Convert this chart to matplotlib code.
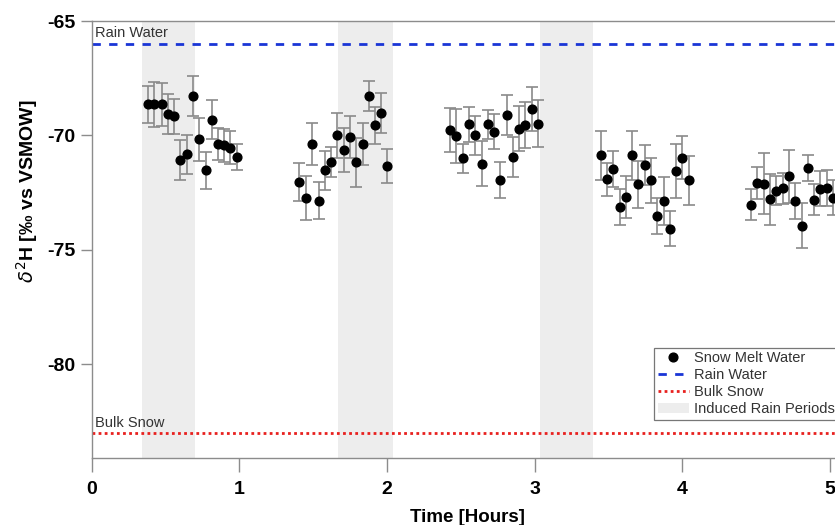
import matplotlib
matplotlib.use("Agg")
import matplotlib.pyplot as plt
from matplotlib.patches import Patch
from matplotlib.lines import Line2D

plt.rcParams["font.family"] = ["Liberation Sans", "DejaVu Sans"]
plt.rcParams["mathtext.fontset"] = "dejavusans"
plt.rcParams["axes.unicode_minus"] = False

# ── data ────────────────────────────────────────────────────────
time_h = [
    0.379, 0.424, 0.474, 0.515, 0.557, 0.600, 0.643, 0.684, 0.729, 0.772,
    0.812, 0.855, 0.896, 0.938, 0.982,
    1.406, 1.451, 1.494, 1.537, 1.580, 1.620, 1.663, 1.706, 1.749, 1.789,
    1.835, 1.875, 1.918, 1.959, 2.001,
    2.426, 2.469, 2.512, 2.555, 2.597, 2.641, 2.683, 2.724, 2.766, 2.810,
    2.852, 2.895, 2.936, 2.981, 3.022,
    3.446, 3.489, 3.532, 3.575, 3.617, 3.660, 3.701, 3.744, 3.787, 3.830,
    3.873, 3.915, 3.956, 3.999, 4.042,
    4.464, 4.507, 4.552, 4.592, 4.635, 4.678, 4.719, 4.764, 4.807, 4.850,
    4.890, 4.933, 4.976, 5.017,
]
d2h = [
    -68.64, -68.64, -68.64, -69.07, -69.17, -71.07, -70.82, -68.28, -70.17, -71.52,
    -69.32, -70.38, -70.43, -70.53, -70.94,
    -72.03, -72.74, -70.38, -72.84, -71.52, -71.16, -69.99, -70.63, -70.05, -71.16,
    -70.38, -68.28, -69.55, -69.00, -71.33,
    -69.76, -70.02, -71.00, -69.51, -69.99, -71.23, -69.51, -69.83, -71.94, -69.10,
    -70.95, -69.70, -69.54, -68.83, -69.48,
    -70.86, -71.91, -71.48, -73.12, -72.67, -70.86, -72.14, -71.29, -71.96, -73.53,
    -72.86, -74.07, -71.56, -70.97, -71.96,
    -73.02, -72.07, -72.10, -72.79, -72.42, -72.31, -71.78, -72.86, -73.95, -71.42,
    -72.80, -72.32, -72.29, -72.71,
]
d2h_err = [
    0.82, 0.98, 0.93, 0.87, 0.75, 0.88, 0.86, 0.89, 0.93, 0.82,
    0.85, 0.71, 0.71, 0.73, 0.55,
    0.85, 0.96, 0.91, 0.82, 0.85, 0.65, 0.98, 0.95, 0.92, 1.07,
    0.93, 0.66, 0.81, 0.87, 0.73,
    0.95, 1.16, 0.63, 0.77, 0.85, 0.97, 0.63, 0.78, 0.78, 0.87,
    0.87, 0.97, 1.02, 0.96, 1.04,
    1.07, 0.73, 0.79, 0.80, 0.92, 1.07, 1.04, 0.88, 0.98, 0.78,
    1.05, 0.76, 1.17, 0.95, 1.07,
    0.69, 0.71, 1.35, 1.10, 0.63, 0.68, 1.15, 0.80, 0.98, 0.57,
    0.68, 0.75, 0.79, 0.75,
]
rain_water = -66.0
bulk_snow = -83.0
rain_periods = [(0.34, 0.70), (1.67, 2.04), (3.035, 3.395)]

# ── style ────────────────────────────────────────────────────────
BLUE = "#1a35d6"
RED = "#e8201e"
SHADE = "#ededed"
EBAR = "#8a8a8a"
SPINE = "#8c8c8c"
TXT = "#333333"

fig = plt.figure(figsize=(8.35, 5.25), dpi=100, facecolor="white")
ax = fig.add_axes([0.1098, 0.127, 0.8902, 0.833])

for a, b in rain_periods:
    ax.axvspan(a, b, color=SHADE, lw=0, zorder=0)

ax.axhline(rain_water, color=BLUE, ls=(0, (3, 3)), lw=2.0, zorder=2)
ax.axhline(bulk_snow, color=RED, ls=(0, (1, 1.2)), lw=2.0, zorder=2)
ax.text(0.02, rain_water + 0.15, "Rain Water", fontsize=10.5, color=TXT,
        ha="left", va="bottom")
ax.text(0.02, bulk_snow + 0.15, "Bulk Snow", fontsize=10.5, color=TXT,
        ha="left", va="bottom")

ax.errorbar(time_h, d2h, yerr=d2h_err, fmt="o", color="black",
            markersize=6.3, ecolor=EBAR, elinewidth=1.2, capsize=4,
            capthick=1.2, zorder=3)

ax.set_xlim(0, 5.033)
ax.set_ylim(-84.1, -65)
ax.set_xticks([0, 1, 2, 3, 4, 5])
ax.set_yticks([-65, -70, -75, -80])

ax.spines["right"].set_visible(False)
for s in ("top", "left", "bottom"):
    ax.spines[s].set_color(SPINE)
    ax.spines[s].set_linewidth(1.0)

ax.tick_params(axis="both", colors=SPINE, labelcolor="black", width=1.0,
               labelsize=14)
ax.tick_params(axis="y", length=8, pad=4)
ax.tick_params(axis="x", length=10, pad=6)
for lab in ax.get_xticklabels() + ax.get_yticklabels():
    lab.set_fontweight("bold")

ax.set_xlabel("Time [Hours]", fontsize=13.5, fontweight="bold")
ax.xaxis.set_label_coords(0.506, -0.115)
ax.set_ylabel(r"$\delta^{2}$H [‰ vs VSMOW]", fontsize=14, fontweight="bold")
ax.yaxis.set_label_coords(-0.07, 0.61)

handles = [
    Line2D([], [], marker="o", ls="none", color="black", markersize=6.3),
    Line2D([], [], color=BLUE, ls=(0, (3, 3)), lw=2.0),
    Line2D([], [], color=RED, ls=(0, (1, 1.2)), lw=2.0),
    Patch(facecolor=SHADE, edgecolor="none"),
]
labels = ["Snow Melt Water", "Rain Water", "Bulk Snow", "Induced Rain Periods"]
leg = fig.legend(handles, labels, loc="upper left",
                 bbox_to_anchor=(0.7836, 0.338), fontsize=10.5,
                 frameon=True, fancybox=False, shadow=False,
                 borderpad=0.25, labelspacing=0.2, handlelength=2.1,
                 handletextpad=0.4, borderaxespad=0)
leg.get_frame().set_edgecolor("#555555")
leg.get_frame().set_linewidth(0.9)
for t in leg.get_texts():
    t.set_color(TXT)

fig.savefig("out.png", dpi=100, facecolor="white")
